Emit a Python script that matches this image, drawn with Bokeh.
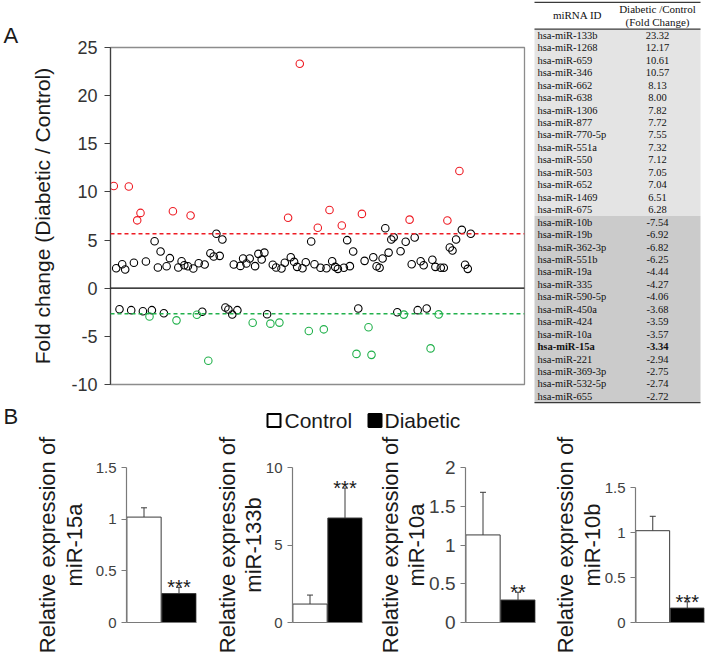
from bokeh.plotting import figure
from bokeh.models import (Range1d, Span, FixedTicker, ColumnDataSource,
                          Whisker, TeeHead, NumeralTickFormatter)
from bokeh.layouts import column, row
from bokeh.embed import file_html
from bokeh.resources import INLINE
from bokeh.core.properties import value, field

FONT = "Liberation Sans"
SERIF = "Liberation Serif"

# ---------------- Panel A : fold-change scatter ----------------
# up-regulated (red)
red_x = [1.1, 6.1, 8.9, 10.0, 20.8, 26.7, 59.2, 63.1, 69.1, 73.0, 77.1, 83.8, 99.7, 112.3, 116.3]
red_y = [10.61, 10.57, 7.05, 7.82, 8.00, 7.55, 7.32, 23.32, 6.28, 8.13, 6.51, 7.72, 7.12, 7.04, 12.17]
# down-regulated (green)
green_x = [13.0, 22.0, 28.8, 32.6, 47.4, 53.3, 56.3, 66.1, 71.1, 82.0, 86.0, 87.0, 97.8, 106.7, 109.4]
green_y = [-2.94, -3.34, -2.75, -7.54, -3.59, -3.68, -3.57, -4.44, -4.27, -6.82, -4.06, -6.92, -2.74, -6.25, -2.72]
# other miRNAs, positive fold change (black)
bpos_x = [1.9, 3.9, 4.9, 7.8, 11.8, 14.7, 15.8, 16.7, 18.7, 19.8, 22.6, 23.7, 24.6, 25.8, 27.6,
          29.4, 31.4, 33.3, 34.4, 35.3, 36.4, 37.3, 41.1, 43.3, 44.2, 45.3, 46.4, 48.2, 49.3, 50.4,
          51.3, 54.1, 55.2, 57.0, 58.1, 60.1, 61.2, 62.2, 64.0, 65.1, 66.9, 68.0, 70.0, 72.0, 73.9,
          74.9, 75.8, 77.8, 78.9, 79.8, 80.9, 84.7, 87.6, 88.7, 89.7, 90.7, 91.6, 92.7, 93.6, 94.4,
          96.7, 98.4, 100.4, 101.4, 103.4, 104.4, 107.3, 108.3, 110.1, 111.1, 113.1, 114.0, 115.2,
          117.1, 118.2, 119.1, 120.1]
bpos_y = [2.08, 2.49, 1.94, 2.64, 2.77, 4.88, 2.15, 3.81, 2.28, 3.12, 2.15, 2.80, 2.39, 2.28, 2.05,
          2.60, 2.46, 3.63, 3.29, 5.65, 3.36, 5.06, 2.46, 2.32, 3.08, 2.56, 3.08, 2.29, 3.57, 2.98,
          3.70, 2.43, 2.15, 2.05, 2.64, 3.22, 2.74, 2.22, 2.08, 2.70, 4.85, 2.49, 2.12, 2.08, 2.80,
          2.22, 2.01, 2.12, 4.99, 2.29, 3.81, 2.84, 3.22, 2.28, 2.12, 3.08, 6.23, 3.70, 5.06, 5.30,
          3.84, 4.82, 2.49, 5.26, 2.80, 2.39, 2.95, 2.22, 2.12, 2.12, 4.23, 3.91, 5.06, 6.06, 2.43,
          2.01, 5.65]
# other miRNAs, negative fold change (black)
bneg_x = [3.0, 6.9, 10.8, 13.8, 17.8, 30.6, 38.3, 39.3, 40.6, 42.3, 52.2, 82.6, 95.6, 102.4, 105.4]
bneg_y = [-2.18, -2.28, -2.39, -2.28, -2.60, -2.45, -2.00, -2.21, -2.73, -2.28, -2.70, -2.10, -2.49, -2.28, -2.10]

up_cut = 5.65
down_cut = -2.66
a_yticks = [-10, -5, 0, 5, 10, 15, 20, 25]

RED = "#ee1c24"
GREEN = "#22b14c"

pA = figure(width=533, height=404, x_range=Range1d(0, 138), y_range=Range1d(-10, 25),
            output_backend="svg", toolbar_location=None,
            min_border_left=110, min_border_right=9, min_border_top=47, min_border_bottom=20)
pA.title.text = "A"
pA.title.align = "left"
pA.title.offset = -107
pA.title.text_font = FONT
pA.title.text_font_size = "22px"
pA.title.text_font_style = "normal"
pA.title.text_color = "#1a1a1a"
pA.title.standoff = 0
pA.xaxis.visible = False
pA.grid.visible = False
pA.outline_line_color = "#8c8c8c"
pA.outline_line_width = 1.3
ya = pA.yaxis[0]
ya.ticker = FixedTicker(ticks=a_yticks)
ya.formatter = NumeralTickFormatter(format="0")
ya.minor_tick_line_color = None
ya.major_tick_in = 0
ya.major_tick_out = 6
ya.axis_line_color = "#404040"
ya.axis_line_width = 1.2
ya.major_tick_line_color = "#404040"
ya.major_label_text_font = FONT
ya.major_label_text_font_size = "18px"
ya.major_label_text_color = "#333333"
ya.major_label_standoff = 7
ya.axis_label = "Fold change (Diabetic / Control)"
ya.axis_label_text_font = FONT
ya.axis_label_text_font_size = "21px"
ya.axis_label_text_font_style = "normal"
ya.axis_label_text_color = "#1a1a1a"
ya.axis_label_standoff = 14

pA.add_layout(Span(location=0, dimension="width", line_color="black", line_width=1.3))
pA.add_layout(Span(location=up_cut, dimension="width", line_color=RED, line_width=1.5, line_dash="4 3"))
pA.add_layout(Span(location=down_cut, dimension="width", line_color=GREEN, line_width=1.5, line_dash="4 3"))

for xs, ys, col in [(bpos_x, bpos_y, "black"), (bneg_x, bneg_y, "black"),
                    (red_x, red_y, RED), (green_x, green_y, GREEN)]:
    pA.scatter(x=xs, y=ys, marker="circle", size=7.5, fill_color=None,
               line_color=col, line_width=1.1)

# ---------------- Table ----------------
up_ids = ["hsa-miR-133b", "hsa-miR-1268", "hsa-miR-659", "hsa-miR-346", "hsa-miR-662",
          "hsa-miR-638", "hsa-miR-1306", "hsa-miR-877", "hsa-miR-770-5p", "hsa-miR-551a",
          "hsa-miR-550", "hsa-miR-503", "hsa-miR-652", "hsa-miR-1469", "hsa-miR-675"]
up_fc = [23.32, 12.17, 10.61, 10.57, 8.13, 8.00, 7.82, 7.72, 7.55, 7.32, 7.12, 7.05, 7.04, 6.51, 6.28]
down_ids = ["hsa-miR-10b", "hsa-miR-19b", "hsa-miR-362-3p", "hsa-miR-551b", "hsa-miR-19a",
            "hsa-miR-335", "hsa-miR-590-5p", "hsa-miR-450a", "hsa-miR-424", "hsa-miR-10a",
            "hsa-miR-15a", "hsa-miR-221", "hsa-miR-369-3p", "hsa-miR-532-5p", "hsa-miR-655"]
down_fc = [-7.54, -6.92, -6.82, -6.25, -4.44, -4.27, -4.06, -3.68, -3.59, -3.57, -3.34, -2.94, -2.75, -2.74, -2.72]
highlight = "hsa-miR-15a"
table_header = ["miRNA ID", "Diabetic /Control", "(Fold Change)"]

n_up, n_dn = len(up_ids), len(down_ids)
HH = 2.3
total = HH + n_up + n_dn

tab = figure(width=172, height=404, x_range=Range1d(0, 172), y_range=Range1d(32.45, 0),
             output_backend="svg", toolbar_location=None,
             min_border_left=0, min_border_right=0, min_border_top=0, min_border_bottom=0)
tab.axis.visible = False
tab.grid.visible = False
tab.outline_line_color = None

tab.quad(left=1, right=167, top=HH, bottom=HH + n_up, fill_color="#e4e4e4", line_color=None)
tab.quad(left=1, right=167, top=HH + n_up, bottom=total, fill_color="#cbcbcb", line_color=None)
tab.segment(x0=[1, 1, 1], x1=[167, 167, 167], y0=[0.15, HH, total], y1=[0.15, HH, total],
            line_color="#3a3a3a", line_width=1.3)

ids = up_ids + down_ids
fcs = up_fc + down_fc
tsrc = ColumnDataSource(dict(
    y=[HH + i + 0.5 for i in range(len(ids))],
    name=ids,
    fc=["%.2f" % v for v in fcs],
    style=["bold" if s == highlight else "normal" for s in ids],
))
tab.text(x=4, y="y", text="name", source=tsrc, text_font=value(SERIF), text_font_size="10.5px",
         text_baseline="middle", text_align="left", text_color="#111111", text_font_style=field("style"))
tab.text(x=124, y="y", text="fc", source=tsrc, text_font=value(SERIF), text_font_size="10.5px",
         text_baseline="middle", text_align="center", text_color="#111111", text_font_style=field("style"))
tab.text(x=[44, 124, 124], y=[1.2, 0.68, 1.7], text=table_header, text_font=value(SERIF),
         text_font_size="11px", text_baseline="middle", text_align="center", text_color="#111111")

# ---------------- Panel B header (label + legend) ----------------
legend_labels = ["Control", "Diabetic"]
legend_fill = ["white", "black"]

hdr = figure(width=705, height=28, x_range=Range1d(0, 705), y_range=Range1d(28, 0),
             output_backend="svg", toolbar_location=None,
             min_border_left=0, min_border_right=0, min_border_top=0, min_border_bottom=0)
hdr.axis.visible = False
hdr.grid.visible = False
hdr.outline_line_color = None
hdr.text(x=[3], y=[12], text=["B"], text_font=value(FONT), text_font_size="22px",
         text_baseline="middle", text_align="left", text_color="#1a1a1a")
hdr.scatter(x=[273.5, 374.5], y=[16, 16], marker="square", size=13, fill_color=legend_fill,
            line_color="black", line_width=2)
hdr.text(x=[284, 384], y=[16, 16], text=legend_labels, text_font=value(FONT), text_font_size="21px",
         text_baseline="middle", text_align="left", text_color="#1a1a1a")

# ---------------- Panel B bar charts ----------------
genes = ["miR-15a", "miR-133b", "miR-10a", "miR-10b"]
ctrl_mean = [1.02, 1.19, 1.13, 1.02]
ctrl_err = [0.09, 0.58, 0.55, 0.16]
diab_mean = [0.28, 6.74, 0.29, 0.16]
diab_err = [0.06, 1.93, 0.10, 0.07]
stars = ["***", "***", "**", "***"]
y_ticks = [[0, 0.5, 1, 1.5], [0, 5, 10], [0, 0.5, 1, 1.5, 2], [0, 0.5, 1, 1.5]]
y_max = [1.5, 10, 2, 1.5]

fig_w = [200, 170, 170, 165]
border_l = [126, 92, 95, 95]
border_r = [4, 8, 5, 1]
tick_fs = ["15px", "15px", "19px", "15px"]
label_standoff = [6, -3, -3, -3]
range_top = [1.5, 10, 2, 1.5 * 155 / 135]

bars = []
for i in range(4):
    b = figure(width=fig_w[i], height=225, x_range=Range1d(0, 2), y_range=Range1d(0, range_top[i]),
               output_backend="svg", toolbar_location=None,
               min_border_left=border_l[i], min_border_right=border_r[i],
               min_border_top=35, min_border_bottom=35)
    b.grid.visible = False
    b.outline_line_color = None
    src = ColumnDataSource(dict(x=[0.5, 1.5], top=[ctrl_mean[i], diab_mean[i]],
                                upper=[ctrl_mean[i] + ctrl_err[i], diab_mean[i] + diab_err[i]],
                                color=legend_fill))
    b.vbar(x="x", top="top", width=0.98, fill_color="color", line_color="#3a3a3a",
           line_width=1, source=src)
    b.add_layout(Whisker(base="x", upper="upper", lower="top", source=src,
                         upper_head=TeeHead(size=6, line_color="#3a3a3a", line_width=1),
                         lower_head=None, line_color="#3a3a3a", line_width=1))
    b.text(x=[1.5], y=[diab_mean[i] + diab_err[i]], text=[stars[i]], text_font=value(FONT),
           text_font_size="20px", text_align="center", text_baseline="middle", text_color="#1a1a1a")

    xa = b.xaxis[0]
    xa.ticker = FixedTicker(ticks=[])
    xa.major_label_text_font_size = "0px"
    xa.major_tick_line_color = None
    xa.minor_tick_line_color = None
    xa.axis_line_color = "#7a7a7a"
    xa.axis_line_width = 1.2

    yb = b.yaxis[0]
    yb.ticker = FixedTicker(ticks=y_ticks[i])
    yb.formatter = NumeralTickFormatter(format="0.[0]")
    yb.bounds = (0, y_max[i])
    yb.minor_tick_line_color = None
    yb.major_tick_in = 0
    yb.major_tick_out = 5
    yb.axis_line_color = "#7a7a7a"
    yb.axis_line_width = 1.2
    yb.major_tick_line_color = "#7a7a7a"
    yb.major_label_text_font = FONT
    yb.major_label_text_font_size = tick_fs[i]
    yb.major_label_text_color = "#404040"
    yb.major_label_standoff = 5
    yb.axis_label = "Relative expression of\n" + genes[i]
    yb.axis_label_text_font = FONT
    yb.axis_label_text_font_size = "22px"
    yb.axis_label_text_font_style = "normal"
    yb.axis_label_text_color = "#1a1a1a"
    yb.axis_label_text_line_height = 1.05
    yb.axis_label_standoff = label_standoff[i]
    bars.append(b)

layout = column(row(pA, column(tab)), hdr, row(*bars))

with open("out.html", "w") as f:
    f.write(file_html(layout, INLINE))
